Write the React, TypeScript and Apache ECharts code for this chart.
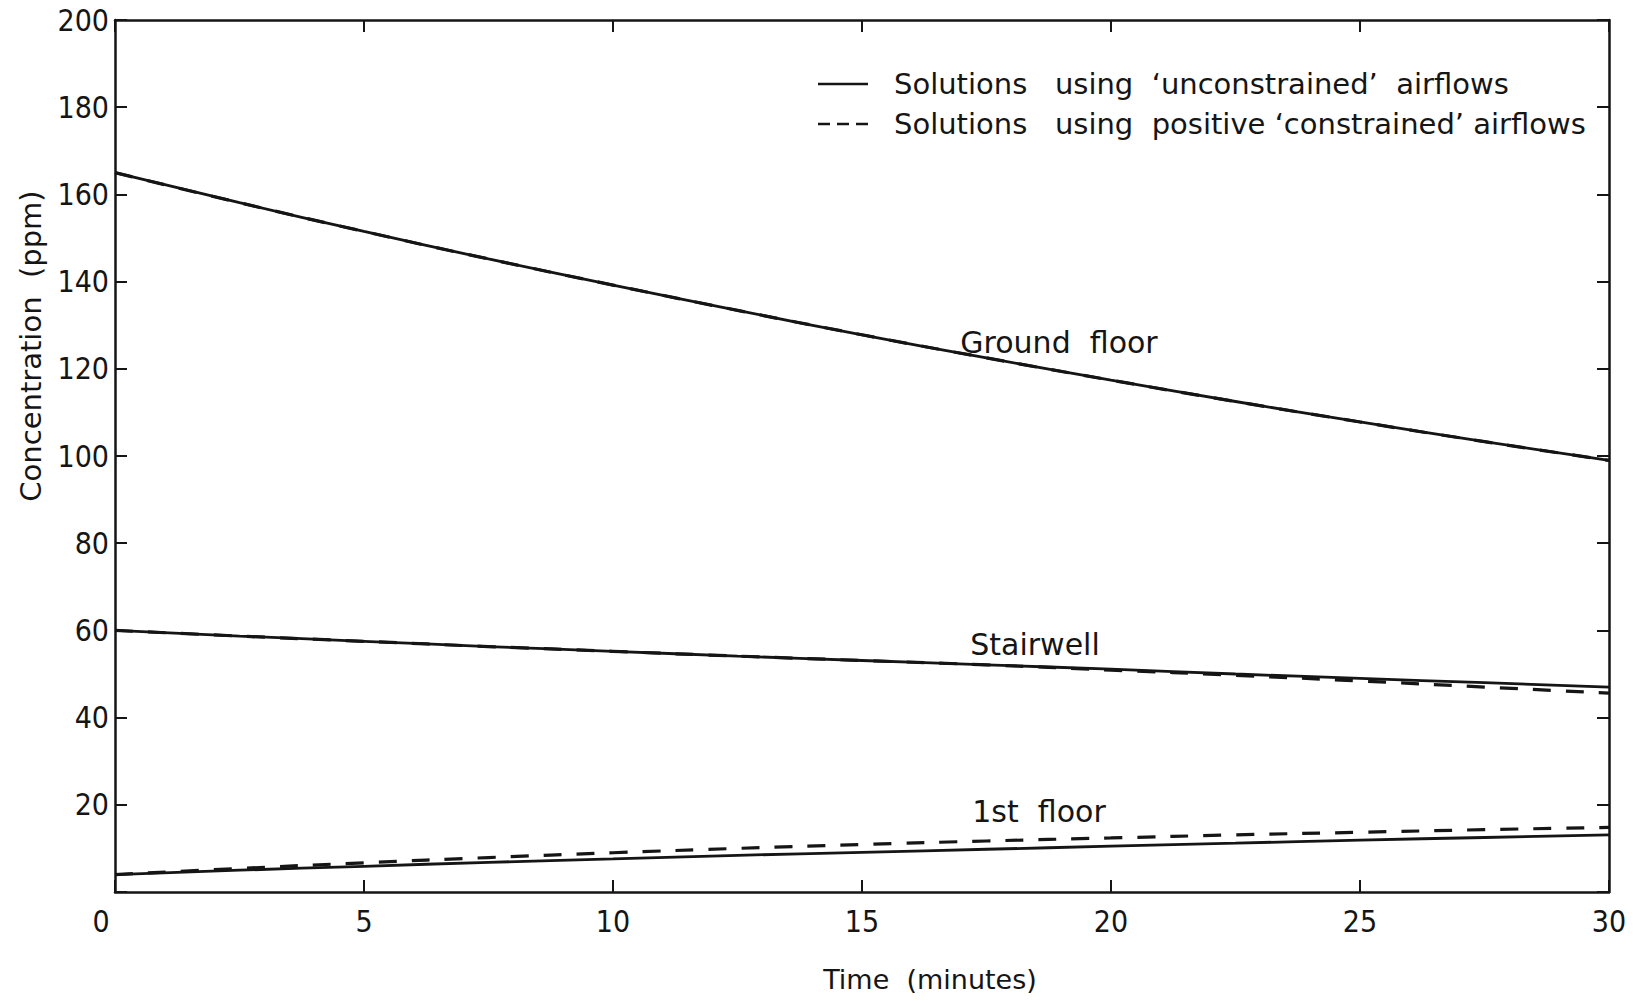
import React, { useEffect, useRef } from "react";
import * as echarts from "echarts";

const timeMinutes = [0, 2.5, 5, 7.5, 10, 12.5, 15, 17.5, 20, 22.5, 25, 27.5, 30];
const groundSolid = [165, 158.1, 151.5, 145.2, 139.2, 133.4, 127.8, 122.5, 117.4, 112.5, 107.8, 103.3, 99];
const groundDashed = [165, 158.1, 151.5, 145.2, 139.2, 133.4, 127.8, 122.5, 117.4, 112.5, 107.8, 103.3, 99];
const stairSolid = [60, 58.7, 57.5, 56.3, 55.2, 54.1, 53.1, 52.1, 51.1, 50.0, 49.0, 48.0, 47.0];
const stairDashed = [60, 58.7, 57.5, 56.3, 55.2, 54.1, 53.1, 52.1, 50.9, 49.7, 48.4, 47.0, 45.6];
const firstSolid = [4, 5.0, 5.9, 6.8, 7.6, 8.4, 9.1, 9.8, 10.5, 11.2, 11.9, 12.5, 13.1];
const firstDashed = [4, 5.4, 6.7, 7.9, 9.0, 10.0, 10.9, 11.7, 12.4, 13.1, 13.7, 14.3, 14.8];

const SOLID_NAME = "Solutions   using  \u2018unconstrained\u2019  airflows";
const DASHED_NAME = "Solutions   using  positive \u2018constrained\u2019 airflows";

const curveLabels = [
  { text: "Ground  floor", x: 1059, y: 342 },
  { text: "Stairwell", x: 1035, y: 644 },
  { text: "1st  floor", x: 1039, y: 811 },
];

const INK = "#151515";
const TEXT_FONT = "DejaVu Sans, sans-serif";
const NUM_FONT = "DejaVu Sans Condensed, Liberation Sans Narrow, DejaVu Sans, sans-serif";

const SOLID_ICON = "path://M0,0h50v2.5h-50z";
const DASHED_ICON = "path://M0,0h12v2.5h-12zM19,0h12v2.5h-12zM38,0h12v2.5h-12z";

const toPairs = (vals: number[]) => timeMinutes.map((t, i) => [t, vals[i]]);

export default function App() {
  const ref = useRef<HTMLDivElement>(null);
  useEffect(() => {
    document.body.style.margin = "0";
    if (!ref.current) return;
    const chart = echarts.init(ref.current, undefined, { renderer: "svg" });
    const solid = (name: string, data: number[]) => ({
      type: "line",
      name,
      data: toPairs(data),
      smooth: true,
      showSymbol: false,
      symbol: "none",
      lineStyle: { color: INK, width: 2.8, type: "solid" },
      itemStyle: { color: INK },
      z: 3,
    });
    const dashed = (name: string, data: number[]) => ({
      type: "line",
      name,
      data: toPairs(data),
      smooth: true,
      showSymbol: false,
      symbol: "none",
      lineStyle: { color: INK, width: 3.2, type: [18, 15] },
      itemStyle: { color: INK },
      z: 2,
    });
    const axisCommon = {
      type: "value",
      axisLine: { show: true, onZero: false, lineStyle: { color: INK, width: 2.5 } },
      axisTick: { show: true, inside: true, length: 12, lineStyle: { color: INK, width: 2 } },
      splitLine: { show: false },
    };
    chart.setOption({
      animation: false,
      backgroundColor: "#ffffff",
      grid: { left: 115, right: 24, top: 20, bottom: 109, containLabel: false },
      legend: {
        orient: "vertical",
        left: 818,
        top: 69,
        padding: 0,
        itemWidth: 50,
        itemHeight: 2.5,
        itemGap: 10,
        textStyle: {
          fontFamily: TEXT_FONT,
          fontSize: 29,
          color: INK,
          lineHeight: 30,
          padding: [0, 0, 0, 21],
        },
        data: [
          { name: SOLID_NAME, icon: SOLID_ICON, itemStyle: { color: INK } },
          { name: DASHED_NAME, icon: DASHED_ICON, itemStyle: { color: INK } },
        ],
      },
      xAxis: [
        {
          ...axisCommon,
          min: 0,
          max: 30,
          interval: 5,
          position: "bottom",
          axisLabel: {
            margin: 14,
            fontFamily: NUM_FONT,
            fontSize: 30,
            color: INK,
            formatter: (v: number) => (v === 0 ? "{z|0}" : String(v)),
            rich: {
              z: { fontFamily: NUM_FONT, fontSize: 30, color: INK, padding: [0, 28, 0, 0] },
            },
          },
        },
        {
          ...axisCommon,
          min: 0,
          max: 30,
          interval: 5,
          position: "top",
          axisLabel: { show: false },
        },
      ],
      yAxis: [
        {
          ...axisCommon,
          min: 0,
          max: 200,
          interval: 20,
          position: "left",
          axisLabel: {
            margin: 6,
            fontFamily: NUM_FONT,
            fontSize: 30,
            color: INK,
            formatter: (v: number) => (v === 0 ? "" : String(v)),
          },
        },
        {
          ...axisCommon,
          min: 0,
          max: 200,
          interval: 20,
          position: "right",
          axisLabel: { show: false },
        },
      ],
      graphic: [
        ...curveLabels.map((l) => ({
          type: "text",
          x: l.x,
          y: l.y,
          style: {
            text: l.text,
            fontFamily: TEXT_FONT,
            fontSize: 30,
            fill: INK,
            align: "center",
            verticalAlign: "middle",
          },
        })),
        {
          type: "text",
          x: 930,
          y: 979,
          style: {
            text: "Time  (minutes)",
            fontFamily: TEXT_FONT,
            fontSize: 27,
            fill: INK,
            align: "center",
            verticalAlign: "middle",
          },
        },
        {
          type: "text",
          x: 31,
          y: 346,
          rotation: Math.PI / 2,
          style: {
            text: "Concentration  (ppm)",
            fontFamily: TEXT_FONT,
            fontSize: 29,
            fill: INK,
            align: "center",
            verticalAlign: "middle",
          },
        },
      ],
      series: [
        dashed(DASHED_NAME, groundDashed),
        dashed(DASHED_NAME, stairDashed),
        dashed(DASHED_NAME, firstDashed),
        solid(SOLID_NAME, groundSolid),
        solid(SOLID_NAME, stairSolid),
        solid(SOLID_NAME, firstSolid),
      ],
    });
    return () => chart.dispose();
  }, []);
  return <div ref={ref} style={{ width: 1633, height: 1001 }} />;
}
